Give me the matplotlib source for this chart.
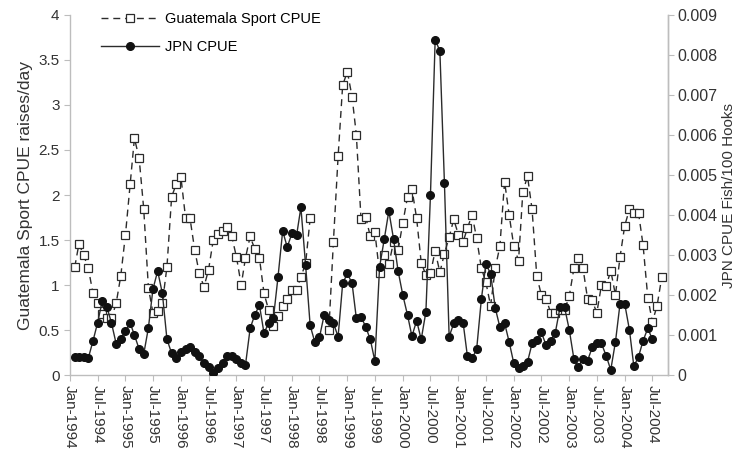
import numpy as np
import pandas as pd
import matplotlib
matplotlib.use("Agg")
import matplotlib.pyplot as plt
import matplotlib.dates as mdates
from matplotlib.ticker import FuncFormatter, MultipleLocator

plt.rcParams["font.family"] = ["Liberation Sans", "DejaVu Sans"]

# monthly series, first point Feb-1994
guat_start = "1994-02-01"
guat_cpue = [
    1.20, 1.46, 1.33, 1.19, 0.91, 0.80, 0.68, 0.63, 0.63, 0.80, 1.10, 1.56,
    2.12, 2.63, 2.41, 1.85, 0.97, 0.69, 0.71, 0.80, 1.20, 1.98, 2.12, 2.20,
    1.74, 1.74, 1.39, 1.13, 0.98, 1.17, 1.50, 1.57, 1.60, 1.65, 1.54, 1.31,
    1.00, 1.30, 1.54, 1.40, 1.30, 0.91, 0.72, 0.54, 0.66, 0.77, 0.84, 0.95,
    0.95, 1.09, 1.24, 1.74, np.nan, np.nan, np.nan, 0.50, 1.48, 2.43, 3.22, 3.37,
    3.09, 2.67, 1.73, 1.76, 1.54, 1.59, 1.13, 1.33, 1.23, 1.48, 1.39, 1.69,
    1.98, 2.07, 1.74, 1.25, 1.11, 1.13, 1.38, 1.14, 1.35, 1.53, 1.73, 1.56,
    1.48, 1.63, 1.78, 1.52, 1.19, 1.03, 0.77, 1.19, 1.43, 2.15, 1.78, 1.43,
    1.27, 2.03, 2.21, 1.84, 1.10, 0.89, 0.85, 0.69, 0.69, 0.72, 0.72, 0.88,
    1.19, 1.30, 1.19, 0.85, 0.83, 0.69, 1.00, 0.99, 1.16, 0.89, 1.31, 1.66,
    1.84, 1.80, 1.80, 1.44, 0.86, 0.59, 0.77, 1.09,
]
jpn_cpue = [
    0.00044, 0.00044, 0.00044, 0.00042, 0.00085, 0.00130, 0.00185, 0.00170,
    0.00130, 0.00078, 0.00090, 0.00110, 0.00130, 0.00100, 0.00065, 0.00052,
    0.00118, 0.00215, 0.00260, 0.00204, 0.00090, 0.00054, 0.00043, 0.00058,
    0.00064, 0.00071, 0.00058, 0.00048, 0.00029, 0.00019, 0.00006, 0.00017,
    0.00029, 0.00048, 0.00047, 0.00039, 0.00031, 0.00025, 0.00117, 0.00150,
    0.00175, 0.00105, 0.00130, 0.00142, 0.00244, 0.00360, 0.00320, 0.00354,
    0.00350, 0.00419, 0.00275, 0.00124, 0.00082, 0.00094, 0.00150, 0.00137,
    0.00130, 0.00096, 0.00229, 0.00254, 0.00229, 0.00142, 0.00146, 0.00121,
    0.00089, 0.00035, 0.00270, 0.00340, 0.00410, 0.00340, 0.00260, 0.00200,
    0.00150, 0.00097, 0.00136, 0.00089, 0.00158, 0.00450, 0.00838, 0.00810,
    0.00480, 0.00096, 0.00129, 0.00138, 0.00131, 0.00048, 0.00042, 0.00064,
    0.00189, 0.00278, 0.00253, 0.00167, 0.00120, 0.00130, 0.00083, 0.00029,
    0.00017, 0.00023, 0.00033, 0.00079, 0.00087, 0.00107, 0.00075, 0.00086,
    0.00106, 0.00169, 0.00169, 0.00113, 0.00039, 0.00021, 0.00040, 0.00036,
    0.00069, 0.00079, 0.00079, 0.00048, 0.00013, 0.00083, 0.00178, 0.00178,
    0.00113, 0.00022, 0.00046, 0.00086, 0.00117, 0.00089,
]

guat_dates = pd.date_range(guat_start, periods=len(guat_cpue), freq="MS")
jpn_dates = pd.date_range(guat_start, periods=len(jpn_cpue), freq="MS")

AXIS_C = "#bdbdbd"
LINE_C = "#2b2b2b"
TEXT_C = "#333333"

fig = plt.figure(figsize=(7.41, 4.53), dpi=100)
ax = fig.add_axes([0.0945, 0.172, 0.807, 0.795])
ax2 = ax.twinx()

g_line, = ax.plot(guat_dates, guat_cpue, ls=(0, (5, 3.5)), lw=1.0, color=LINE_C,
                  marker="s", ms=5.3, mfc="white", mec=LINE_C, mew=0.9,
                  label="Guatemala Sport CPUE")
j_line, = ax2.plot(jpn_dates, jpn_cpue, ls="-", lw=1.0, color=LINE_C,
                   marker="o", ms=5.5, mfc="#111111", mec="#111111",
                   label="JPN CPUE")

ax.set_ylim(0, 4)
ax2.set_ylim(0, 0.009)
ax.yaxis.set_major_locator(MultipleLocator(0.5))
ax2.yaxis.set_major_locator(MultipleLocator(0.001))
ax.yaxis.set_major_formatter(FuncFormatter(lambda v, p: f"{v:g}"))
ax2.yaxis.set_major_formatter(FuncFormatter(lambda v, p: "0" if v == 0 else f"{v:.3f}"))

ax.set_xlim(pd.Timestamp("1994-01-01"), pd.Timestamp("2004-10-12"))
ax.xaxis.set_major_locator(mdates.MonthLocator(bymonth=[1, 7]))
ax.xaxis.set_major_formatter(mdates.DateFormatter("%b-%Y"))
for lab in ax.get_xticklabels():
    lab.set_rotation(270)
    lab.set_ha("center")
    lab.set_va("top")

for a in (ax, ax2):
    a.spines["top"].set_visible(False)
    for s in ("left", "right", "bottom"):
        a.spines[s].set_color(AXIS_C)
        a.spines[s].set_linewidth(1.0)
    a.tick_params(colors=AXIS_C, labelcolor=TEXT_C, length=4)
ax.tick_params(axis="y", labelsize=11)
ax2.tick_params(axis="y", labelsize=11.5, pad=3)
ax.tick_params(axis="x", labelsize=11, pad=3)
ax2.spines["left"].set_visible(False)
ax2.spines["bottom"].set_visible(False)

ax.set_ylabel("Guatemala Sport CPUE raises/day", fontsize=12.5, color=TEXT_C, labelpad=4)
ax2.set_ylabel("JPN CPUE Fish/100 Hooks", fontsize=11, color=TEXT_C, labelpad=3)

ax2.legend(handles=[g_line, j_line], loc="upper left", bbox_to_anchor=(0.03, 1.045),
           frameon=False, fontsize=10.5, handlelength=4.0, labelspacing=1.0,
           handletextpad=0.35)

fig.savefig("out.png", dpi=100)
